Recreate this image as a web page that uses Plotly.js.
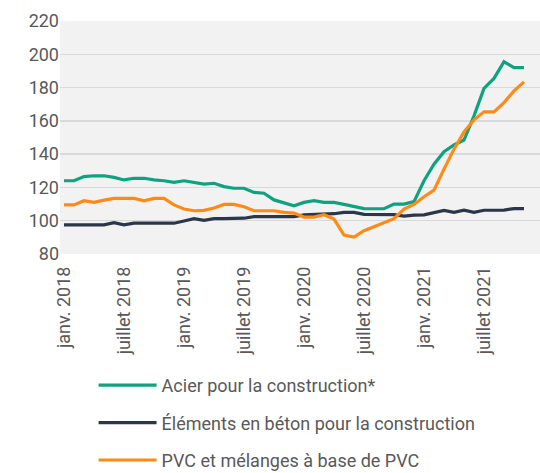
<!DOCTYPE html>
<html>
<head>
<meta charset="utf-8">
<script src="https://cdn.plot.ly/plotly-3.0.1.min.js"></script>
<style>html,body{margin:0;padding:0;background:#fff;}#chart{width:540px;height:473px;}</style>
</head>
<body>
<div id="chart"></div>
<script>
// Monthly periods, Jan 2018 - Nov 2021
const months = [
  "2018-01","2018-02","2018-03","2018-04","2018-05","2018-06","2018-07","2018-08","2018-09","2018-10","2018-11","2018-12",
  "2019-01","2019-02","2019-03","2019-04","2019-05","2019-06","2019-07","2019-08","2019-09","2019-10","2019-11","2019-12",
  "2020-01","2020-02","2020-03","2020-04","2020-05","2020-06","2020-07","2020-08","2020-09","2020-10","2020-11","2020-12",
  "2021-01","2021-02","2021-03","2021-04","2021-05","2021-06","2021-07","2021-08","2021-09","2021-10","2021-11"
];
const acier = [
  124,124,126.5,127,127,126,124.5,125.5,125.5,124.5,124,123,
  124,123,122,122.5,120.5,119.5,119.5,117,116.5,112.5,110.5,109,
  111,112,111,111,109.8,108.5,107.3,107.2,107.2,110,110,111.5,
  124,134,141.5,145.5,148.5,163,179.5,185.5,195.5,192,192
];
const beton = [
  97.5,97.5,97.5,97.5,97.5,98.8,97.5,98.5,98.5,98.5,98.5,98.5,
  99.8,101.2,100.2,101.2,101.2,101.2,101.5,102.4,102.4,102.4,102.4,102.4,
  103.5,103.8,103.8,104.2,105,105,103.8,103.6,103.6,103.6,102.8,103.4,
  103.5,105,106.2,105,106.3,105,106.3,106.3,106.4,107.3,107.3
];
const pvc = [
  109.5,109.5,112,111,112.4,113.4,113.4,113.4,112,113.4,113.4,109.5,
  107,106,106.2,107.6,109.8,109.8,108.4,106,106,106,105,104.6,
  102.2,102.2,103.6,101,91.4,90.2,94,96.4,98.8,101.2,107,109.8,
  114.4,118.4,131,143,153.4,160.6,165.4,165.4,171,178,183.4
];
const seriesNames = ["Acier pour la construction*", "Éléments en béton pour la construction", "PVC et mélanges à base de PVC"];
const tickMonths = ["2018-01","2018-07","2019-01","2019-07","2020-01","2020-07","2021-01","2021-07"];
const tickLabels = ["janv. 2018","juillet 2018","janv. 2019","juillet 2019","janv. 2020","juillet 2020","janv. 2021","juillet 2021"];
const yTicks = [80,100,120,140,160,180,200,220];

const colors = ["#10a27f", "#2b3748", "#ff8a17"];
const values = [acier, beton, pvc];

const traces = values.map((v, k) => ({
  x: months, y: v, type: "scatter", mode: "lines", name: seriesNames[k],
  legendgroup: "g" + k,
  line: {color: colors[k], width: 3.2, shape: "linear"},
  hoverinfo: "skip"
}));

const font = {family: "Roboto, 'Noto Sans', sans-serif", color: "#595959", size: 18};

const layout = {
  width: 540, height: 473,
  margin: {l: 60, r: 0, t: 21, b: 219, autoexpand: false},
  paper_bgcolor: "#ffffff",
  plot_bgcolor: "#f2f2f2",
  font: font,
  showlegend: true,
  legend: {
    orientation: "v", x: 0.07, xanchor: "left", y: -0.485, yanchor: "top",
    font: {family: font.family, color: "#595959", size: 18},
    tracegroupgap: 11, itemwidth: 58, bgcolor: "rgba(0,0,0,0)"
  },
  xaxis: {
    type: "category",
    range: [-0.4, 47.6],
    tickmode: "array", tickvals: tickMonths, ticktext: tickLabels,
    tickangle: -90, ticks: "", showgrid: false, zeroline: false, showline: false,
    ticklabelstandoff: 8,
    tickfont: {family: font.family, size: 18, color: "#595959"}
  },
  yaxis: {
    range: [80, 220], tickmode: "array", tickvals: yTicks,
    showgrid: true, gridcolor: "#d9d9d9", gridwidth: 1.5, zeroline: false, showline: false,
    ticks: "", tickfont: {family: font.family, size: 18, color: "#595959"}
  }
};

Plotly.newPlot("chart", traces, layout, {displayModeBar: false, staticPlot: true});
</script>
</body>
</html>
